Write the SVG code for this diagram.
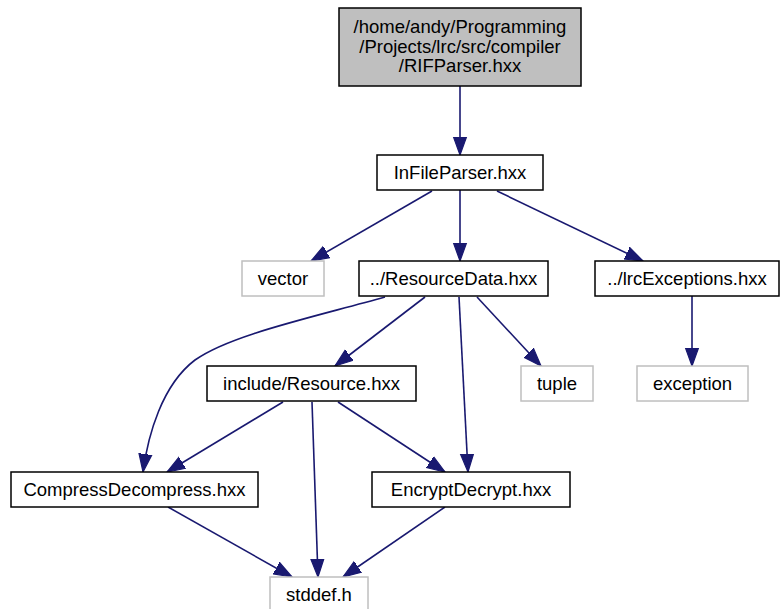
<svg xmlns="http://www.w3.org/2000/svg" width="781" height="609" viewBox="0 0 781 609">
  <defs>
    <style>
      .node rect { fill: #ffffff; stroke: #000000; stroke-width: 1.5; }
      .node.ext rect { stroke: #bfbfbf; }
      .node.root rect { fill: #bfbfbf; }
      .node text { font-family: "Liberation Sans", Arial, Helvetica, sans-serif; font-size: 18.5px; fill: #000000; text-anchor: middle; }
      .edges path { fill: none; stroke: #191970; stroke-width: 1.6; marker-end: url(#arrow); }
    </style>
    <marker id="arrow" markerUnits="userSpaceOnUse" markerWidth="20" markerHeight="16" viewBox="0 -8 20 16" refX="18" refY="0" orient="auto">
      <path d="M0,-6.5 L18,0 L0,6.5 Z" fill="#191970" stroke="#191970" stroke-width="1.2"/>
    </marker>
  </defs>

  <rect x="0" y="0" width="781" height="609" fill="#ffffff"/>

  <!-- include dependency edges -->
  <g id="edges" class="edges">
    <path d="M460,86 L460,155"/>
    <path d="M432,191 L311,261"/>
    <path d="M460,190 L460,261"/>
    <path d="M497,191 L643,261"/>
    <path d="M385,297 C310,318 230,335 195,360 C162,385 148,435 143,472"/>
    <path d="M425,297 L335,366"/>
    <path d="M459,297 L468,472"/>
    <path d="M477,297 L541,366"/>
    <path d="M692,296 L692,366"/>
    <path d="M283,402 L167,472"/>
    <path d="M312,402 L318,577"/>
    <path d="M338,402 L445,472"/>
    <path d="M168,507 L292,577"/>
    <path d="M445,507 L343,577"/>
  </g>

  <!-- headers -->
  <g id="node-rifparser" class="node root">
    <rect x="339" y="8" width="242" height="78"/>
    <text x="460" y="33">/home/andy/Programming</text>
    <text x="460" y="52.5">/Projects/lrc/src/compiler</text>
    <text x="460" y="72">/RIFParser.hxx</text>
  </g>
  <g id="node-infileparser" class="node">
    <rect x="377" y="155" width="166" height="35"/>
    <text x="460" y="178.5">InFileParser.hxx</text>
  </g>
  <g id="node-vector" class="node ext">
    <rect x="242" y="261" width="82" height="35"/>
    <text x="283" y="284.5">vector</text>
  </g>
  <g id="node-resourcedata" class="node">
    <rect x="359" y="261" width="189" height="35"/>
    <text x="453.5" y="284.5">../ResourceData.hxx</text>
  </g>
  <g id="node-lrcexceptions" class="node">
    <rect x="595" y="261" width="184" height="35"/>
    <text x="687" y="284.5">../lrcExceptions.hxx</text>
  </g>
  <g id="node-resource" class="node">
    <rect x="207" y="366" width="209" height="35"/>
    <text x="311.5" y="389.5">include/Resource.hxx</text>
  </g>
  <g id="node-tuple" class="node ext">
    <rect x="521" y="366" width="72" height="35"/>
    <text x="557" y="389.5">tuple</text>
  </g>
  <g id="node-exception" class="node ext">
    <rect x="637" y="366" width="111" height="35"/>
    <text x="692.5" y="389.5">exception</text>
  </g>
  <g id="node-compressdecompress" class="node">
    <rect x="11" y="472" width="247" height="35"/>
    <text x="134.5" y="495.5">CompressDecompress.hxx</text>
  </g>
  <g id="node-encryptdecrypt" class="node">
    <rect x="372" y="472" width="198" height="35"/>
    <text x="471" y="495.5">EncryptDecrypt.hxx</text>
  </g>
  <g id="node-stddef" class="node ext">
    <rect x="270" y="577" width="98" height="35"/>
    <text x="319" y="600.5">stddef.h</text>
  </g>
</svg>
